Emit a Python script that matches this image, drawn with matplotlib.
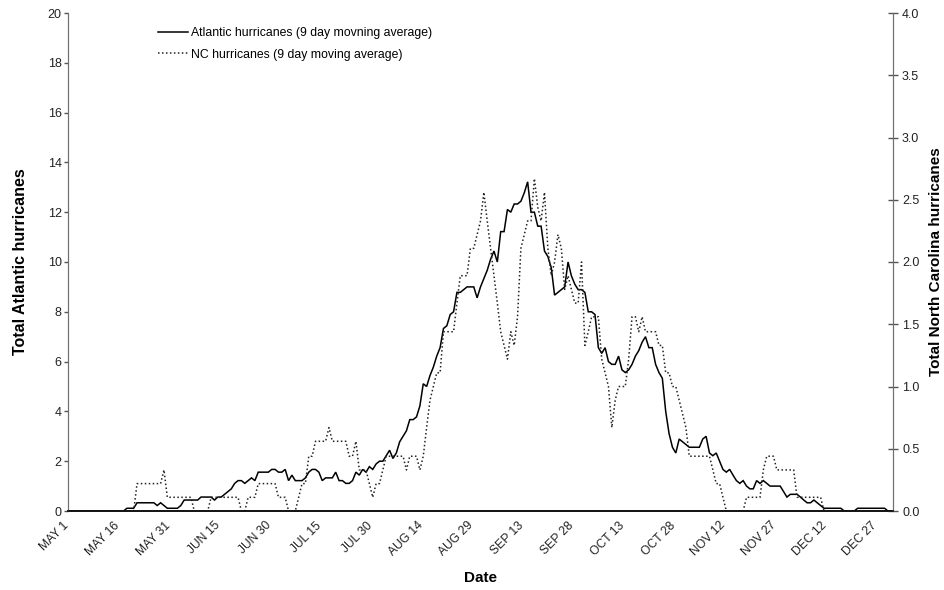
import matplotlib
matplotlib.use("Agg")
import matplotlib.pyplot as plt
from matplotlib.ticker import FixedLocator, FormatStrFormatter, NullFormatter
from matplotlib.transforms import ScaledTranslation

plt.rcParams['font.family'] = ['Liberation Sans', 'DejaVu Sans']

# Daily 9-day moving averages, one value per day starting May 1
atlantic = [
    0, 0, 0, 0, 0, 0, 0, 0, 0, 0,
    0, 0, 0, 0, 0, 0, 0, 0.11, 0.11, 0.11,
    0.33, 0.33, 0.33, 0.33, 0.33, 0.33, 0.22, 0.33, 0.22, 0.11,
    0.11, 0.11, 0.11, 0.22, 0.44, 0.44, 0.44, 0.44, 0.44, 0.56,
    0.56, 0.56, 0.56, 0.44, 0.56, 0.56, 0.67, 0.78, 0.89, 1.11,
    1.22, 1.22, 1.11, 1.22, 1.33, 1.22, 1.56, 1.56, 1.56, 1.56,
    1.67, 1.67, 1.56, 1.56, 1.67, 1.22, 1.44, 1.22, 1.22, 1.22,
    1.33, 1.56, 1.67, 1.67, 1.56, 1.22, 1.33, 1.33, 1.33, 1.56,
    1.22, 1.22, 1.11, 1.11, 1.22, 1.56, 1.44, 1.67, 1.56, 1.78,
    1.67, 1.89, 2.0, 2.0, 2.22, 2.44, 2.11, 2.33, 2.78, 3.0,
    3.22, 3.67, 3.67, 3.78, 4.22, 5.11, 5.0, 5.44, 5.78, 6.22,
    6.56, 7.33, 7.44, 7.89, 8.0, 8.78, 8.78, 8.89, 9.0, 9.0,
    9.0, 8.56, 9.0, 9.33, 9.67, 10.11, 10.44, 10.0, 11.22, 11.22,
    12.11, 12.0, 12.33, 12.33, 12.44, 12.78, 13.22, 12.0, 12.0, 11.44,
    11.44, 10.44, 10.22, 9.78, 8.67, 8.78, 8.89, 9.0, 10.0, 9.44,
    9.11, 8.89, 8.89, 8.78, 8.0, 8.0, 7.89, 6.56, 6.33, 6.56,
    6.0, 5.89, 5.89, 6.22, 5.67, 5.56, 5.67, 5.89, 6.22, 6.44,
    6.78, 7.0, 6.56, 6.56, 5.89, 5.56, 5.33, 4.0, 3.11, 2.56,
    2.33, 2.89, 2.78, 2.67, 2.56, 2.56, 2.56, 2.56, 2.89, 3.0,
    2.33, 2.22, 2.33, 2.0, 1.67, 1.56, 1.67, 1.44, 1.22, 1.11,
    1.22, 1.0, 0.89, 0.89, 1.22, 1.11, 1.22, 1.11, 1.0, 1.0,
    1.0, 1.0, 0.78, 0.56, 0.67, 0.67, 0.67, 0.56, 0.44, 0.33,
    0.33, 0.44, 0.33, 0.22, 0.11, 0.11, 0.11, 0.11, 0.11, 0.11,
    0, 0, 0, 0, 0.11, 0.11, 0.11, 0.11, 0.11, 0.11,
    0.11, 0.11, 0.11, 0, 0,
]

north_carolina = [
    0, 0, 0, 0, 0, 0, 0, 0, 0, 0,
    0, 0, 0, 0, 0, 0, 0, 0, 0, 0,
    0.22, 0.22, 0.22, 0.22, 0.22, 0.22, 0.22, 0.22, 0.33, 0.11,
    0.11, 0.11, 0.11, 0.11, 0.11, 0.11, 0.11, 0, 0, 0,
    0, 0, 0.11, 0.11, 0.11, 0.11, 0.11, 0.11, 0.11, 0.11,
    0.11, 0, 0, 0.11, 0.11, 0.11, 0.22, 0.22, 0.22, 0.22,
    0.22, 0.22, 0.11, 0.11, 0.11, 0, 0, 0, 0.11, 0.22,
    0.22, 0.44, 0.44, 0.56, 0.56, 0.56, 0.56, 0.67, 0.56, 0.56,
    0.56, 0.56, 0.56, 0.44, 0.44, 0.56, 0.33, 0.33, 0.33, 0.22,
    0.11, 0.22, 0.22, 0.33, 0.44, 0.44, 0.44, 0.44, 0.44, 0.44,
    0.33, 0.44, 0.44, 0.44, 0.33, 0.44, 0.67, 0.89, 1.0, 1.11,
    1.11, 1.44, 1.44, 1.44, 1.44, 1.67, 1.89, 1.89, 1.89, 2.11,
    2.11, 2.22, 2.33, 2.56, 2.33, 2.11, 1.89, 1.67, 1.44, 1.33,
    1.22, 1.44, 1.33, 1.56, 2.11, 2.22, 2.33, 2.33, 2.67, 2.44,
    2.33, 2.56, 2.11, 1.89, 2.0, 2.22, 2.11, 1.78, 1.89, 1.78,
    1.67, 1.67, 2.0, 1.33, 1.44, 1.56, 1.56, 1.56, 1.22, 1.11,
    1.0, 0.67, 0.89, 1.0, 1.0, 1.0, 1.22, 1.56, 1.56, 1.44,
    1.56, 1.44, 1.44, 1.44, 1.44, 1.33, 1.33, 1.11, 1.11, 1.0,
    1.0, 0.89, 0.78, 0.67, 0.44, 0.44, 0.44, 0.44, 0.44, 0.44,
    0.44, 0.33, 0.22, 0.22, 0.11, 0, 0, 0, 0, 0,
    0, 0.11, 0.11, 0.11, 0.11, 0.11, 0.33, 0.44, 0.44, 0.44,
    0.33, 0.33, 0.33, 0.33, 0.33, 0.33, 0.11, 0.11, 0.11, 0.11,
    0.11, 0.11, 0.11, 0.11, 0, 0, 0, 0, 0, 0,
    0, 0, 0, 0, 0, 0, 0, 0, 0, 0,
    0, 0, 0, 0, 0,
]

date_labels = ["MAY 1", "MAY 16", "MAY 31", "JUN 15", "JUN 30", "JUL 15",
               "JUL 30", "AUG 14", "AUG 29", "SEP 13", "SEP 28", "OCT 13",
               "OCT 28", "NOV 12", "NOV 27", "DEC 12", "DEC 27"]
label_step_days = 15

n_days = len(atlantic)
# each day's value sits in the middle of its day slot
x = [d + 0.5 for d in range(n_days)]
tick_pos = [i * label_step_days for i in range(len(date_labels))]

fig = plt.figure(figsize=(9.44, 5.90), dpi=100)
ax = fig.add_axes([68 / 944, 1 - 511 / 590, (893 - 68) / 944, (511 - 13) / 590])
ax2 = ax.twinx()

line_a, = ax.plot(x, atlantic, color='black', lw=1.1, solid_joinstyle='miter',
                  label='Atlantic hurricanes (9 day movning average)')
line_n, = ax2.plot(x, north_carolina, color='#222222', lw=1.1,
                   linestyle=(0, (1.0, 1.6)),
                   label='NC hurricanes (9 day moving average)')

ax.set_xlim(0, n_days)
ax.set_ylim(0, 20)
ax2.set_ylim(0, 4)

ax.yaxis.set_major_locator(FixedLocator(range(0, 21, 2)))
ax2.yaxis.set_major_locator(FixedLocator([i * 0.5 for i in range(9)]))
ax2.yaxis.set_major_formatter(FormatStrFormatter('%.1f'))

# date labels: slanted text whose upper end sits just left of each date position
ax.set_xticks(tick_pos)
ax.xaxis.set_major_formatter(NullFormatter())
ax.tick_params(axis='x', length=0)
label_offset = ScaledTranslation(-5 / 100, -8.5 / 100, fig.dpi_scale_trans)
label_trans = ax.get_xaxis_transform() + label_offset
for pos, txt in zip(tick_pos, date_labels):
    ax.text(pos, 0, txt, transform=label_trans, rotation=45, ha='right', va='top',
            rotation_mode='anchor', fontsize=8.7, color='#222222')

ax.tick_params(axis='y', direction='out', length=3, width=1, color='#555555',
               labelsize=9, labelcolor='#222222', pad=1.5)
ax2.tick_params(axis='y', direction='inout', length=7, width=1, color='#555555',
                labelsize=9, labelcolor='#222222', pad=3)

for a in (ax, ax2):
    a.spines['top'].set_visible(False)
    a.spines['left'].set_color('#707070')
    a.spines['right'].set_color('#707070')
    a.spines['bottom'].set_color('#111111')
    a.spines['bottom'].set_linewidth(1.2)

ax.text(0.5, -0.1345, 'Date', transform=ax.transAxes, ha='center', va='center',
        fontsize=11, fontweight='bold')
ax.set_ylabel('Total Atlantic hurricanes', fontsize=11.5, fontweight='bold', labelpad=14)
ax2.set_ylabel('Total North Carolina hurricanes', fontsize=11, fontweight='bold', labelpad=7)

ax2.legend(handles=[line_a, line_n], loc='upper left',
           bbox_to_anchor=(0.1035, 0.982), frameon=False, fontsize=8.8,
           handlelength=2.4, handletextpad=0.25, labelspacing=0.8,
           borderaxespad=0)

fig.savefig('out.png', dpi=100)
